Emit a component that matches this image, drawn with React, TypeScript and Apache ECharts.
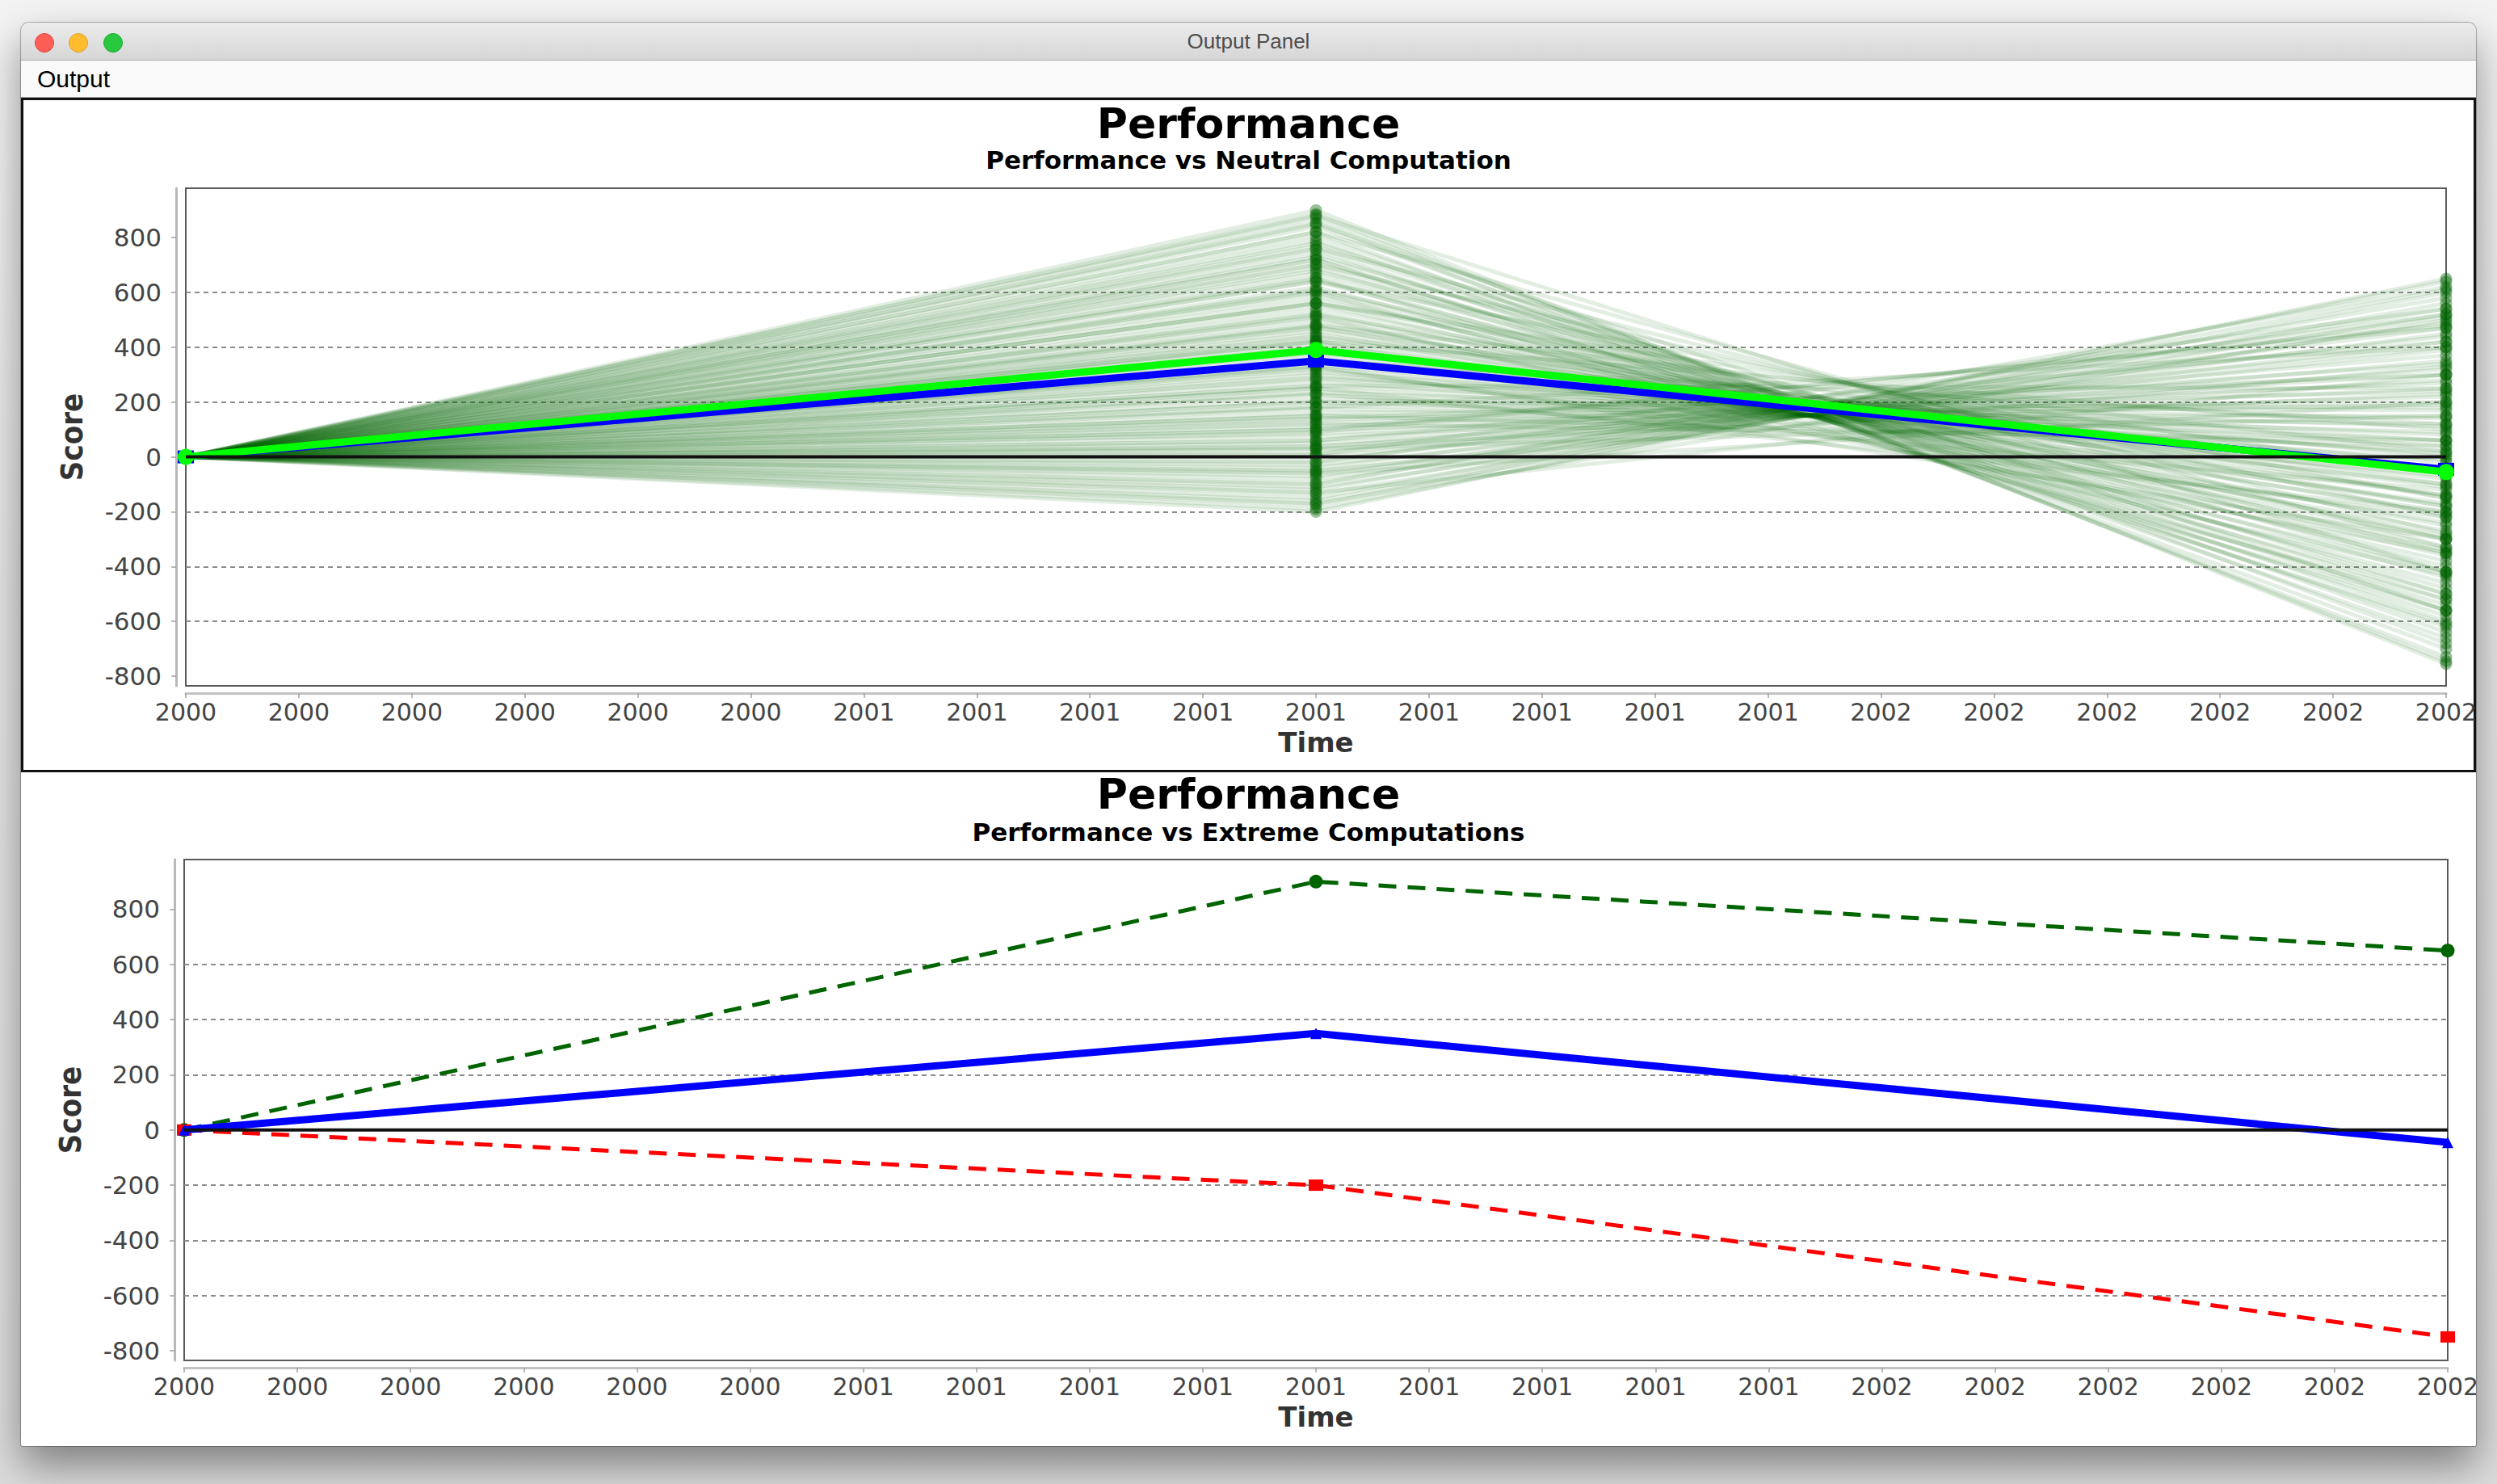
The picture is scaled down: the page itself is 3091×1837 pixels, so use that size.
import React, { useEffect, useRef } from "react";
import * as echarts from "echarts";

// ---------------- data ----------------
const xTickLabels = [
  "2000", "2000", "2000", "2000", "2000", "2000",
  "2001", "2001", "2001", "2001", "2001", "2001", "2001", "2001", "2001",
  "2002", "2002", "2002", "2002", "2002", "2002",
];
const timePoints = [0, 10, 20];
const yTicks = [-800, -600, -400, -200, 0, 200, 400, 600, 800];
const Y_MIN = -835;
const Y_MAX = 980;
const baseline = 0;

const simStart = 0;
const simMid = [
  -200, -190, -175, -160, -150, -135, -120, -110, -95, -80,
  -70, -55, -40, -30, -15, 0, 10, 25, 35, 50,
  60, 75, 85, 100, 110, 125, 135, 150, 160, 175,
  185, 200, 210, 225, 235, 250, 260, 275, 285, 300,
  310, 325, 335, 350, 360, 375, 385, 400, 410, 425,
  435, 450, 460, 475, 485, 500, 515, 530, 545, 560,
  575, 590, 605, 620, 640, 655, 670, 690, 705, 720,
  740, 755, 770, 790, 805, 820, 840, 855, 870, 885,
  900, 880, 820, 760, 700, 640, 560, 480, 420, -130,
  -60, 30, 120, 330, 250, 600, 180, 90, 520, 610,
  680, 730, 780, 850, 440, 380, 290, 200, 140, 60,
  -20, -100, -170, -50, 40, 150, 230, 320, 420, 510,
  650, 720, 560, 470, 350, 260, 100, 10,
];
const simEnd = [
  650, 600, 640, 560, 610, 520, 580, 490, 540, 450,
  510, 420, 470, 390, 440, 350, 400, 320, 370, 280,
  340, 250, 300, 220, 270, 190, 240, 150, 200, 120,
  170, 90, 140, 60, 110, 20, 80, -10, 40, -40,
  10, -70, -20, -100, -50, -140, -80, -170, -110, -200,
  -140, -240, -180, -270, -210, -300, -250, -340, -290, -380,
  -330, -420, -360, -460, -400, -500, -440, -540, -480, -580,
  -520, -620, -560, -660, -600, -700, -640, -730, -680, -745,
  -755, -420, -330, -280, -220, -150, -60, 20, 100, 300,
  200, 150, 60, -300, -200, -520, 400, 480, -180, -300,
  -350, -420, -500, -560, -60, 0, 60, 180, 300, 420,
  520, 620, 500, 330, 230, 40, -120, -220, -350, -430,
  -560, -610, -150, -100, 120, 250, 470, 540,
];
const neutralMean = [0, 390, -55];
const performance = [0, 350, -45];
const extremeHigh = [0, 900, 650];
const extremeLow = [0, -200, -750];

// ---------------- styling ----------------
const FONT = "'DejaVu Sans', 'Liberation Sans', sans-serif";
const NARROW = "'Liberation Sans Narrow', 'DejaVu Sans Condensed', 'DejaVu Sans', sans-serif";

const pts = (vals: number[]) => vals.map((v, i) => [timePoints[i], v]);

function xAxisFor(gridIndex: number) {
  return {
    type: "value",
    gridIndex,
    min: 0,
    max: 20,
    interval: 1,
    offset: 9,
    name: "Time",
    nameLocation: "middle",
    nameGap: 44,
    nameTextStyle: { fontSize: 34, fontWeight: "bold", color: "#333", fontFamily: FONT },
    axisLine: { show: true, onZero: false, lineStyle: { color: "#c2c2c2", width: 3 } },
    axisTick: { show: true, length: 6, lineStyle: { color: "#a0a0a0", width: 1.5 } },
    axisLabel: {
      margin: 8,
      fontSize: 30,
      color: "#444",
      fontFamily: FONT,
      hideOverlap: false,
      formatter: (v: number) => xTickLabels[Math.round(v)] ?? "",
    },
    splitLine: { show: false },
  };
}

function yAxisFor(gridIndex: number) {
  return {
    type: "value",
    gridIndex,
    min: Y_MIN,
    max: Y_MAX,
    splitNumber: 9,
    offset: 12,
    name: "Score",
    nameLocation: "middle",
    nameGap: 110,
    nameRotate: 90,
    nameTextStyle: { fontSize: 38, fontWeight: "bold", color: "#333", fontFamily: NARROW },
    axisLine: { show: true, onZero: false, lineStyle: { color: "#b8b8b8", width: 3 } },
    axisTick: { show: true, length: 6, customValues: yTicks, lineStyle: { color: "#a0a0a0", width: 1.5 } },
    axisLabel: { customValues: yTicks, margin: 18, fontSize: 31, color: "#444", fontFamily: FONT, hideOverlap: false },
    splitLine: {
      show: true,
      showMinLine: false,
      showMaxLine: false,
      lineStyle: { color: "#8c8c8c", width: 2, type: [6, 5] },
    },
  };
}

function buildOption() {
  const spaghetti = simMid.map((m, i) => ({
    type: "line",
    xAxisIndex: 0,
    yAxisIndex: 0,
    z: 1,
    silent: true,
    data: [
      [timePoints[0], simStart],
      [timePoints[1], m],
      [timePoints[2], simEnd[i]],
    ],
    symbol: "circle",
    symbolSize: 15,
    showSymbol: true,
    lineStyle: { color: "rgba(0,100,0,0.11)", width: 5 },
    itemStyle: { color: "rgba(0,100,0,0.4)" },
    emphasis: { disabled: true },
  }));

  const zeroLine = (g: number) => ({
    type: "line",
    xAxisIndex: g,
    yAxisIndex: g,
    z: 6,
    silent: true,
    data: [
      [timePoints[0], baseline],
      [timePoints[timePoints.length - 1], baseline],
    ],
    showSymbol: false,
    symbol: "none",
    lineStyle: { color: "#111", width: 4 },
    emphasis: { disabled: true },
  });

  return {
    animation: false,
    backgroundColor: "transparent",
    textStyle: { fontFamily: FONT },
    title: [
      { text: "Performance", left: "center", top: 0, textStyle: { fontSize: 52, fontWeight: "bold", color: "#000", fontFamily: FONT } },
      { text: "Performance vs Neutral Computation", left: "center", top: 55, textStyle: { fontSize: 31, fontWeight: "bold", color: "#000", fontFamily: FONT } },
      { text: "Performance", left: "center", top: 830, textStyle: { fontSize: 52, fontWeight: "bold", color: "#000", fontFamily: FONT } },
      { text: "Performance vs Extreme Computations", left: "center", top: 887, textStyle: { fontSize: 31, fontWeight: "bold", color: "#000", fontFamily: FONT } },
    ],
    grid: [
      { left: 204, top: 111, width: 2798, height: 616, show: true, borderColor: "#5a5a5a", borderWidth: 2, backgroundColor: "transparent", containLabel: false, outerBoundsMode: "none" },
      { left: 202, top: 942, width: 2802, height: 620, show: true, borderColor: "#5a5a5a", borderWidth: 2, backgroundColor: "transparent", containLabel: false, outerBoundsMode: "none" },
    ],
    xAxis: [xAxisFor(0), xAxisFor(1)],
    yAxis: [yAxisFor(0), yAxisFor(1)],
    series: [
      ...spaghetti,
      {
        type: "line", xAxisIndex: 0, yAxisIndex: 0, z: 3, silent: true,
        data: pts(performance),
        symbol: "rect", symbolSize: [20, 16], showSymbol: true,
        lineStyle: { color: "#0000ff", width: 9 },
        itemStyle: { color: "#0000ff" },
        emphasis: { disabled: true },
      },
      {
        type: "line", xAxisIndex: 0, yAxisIndex: 0, z: 4, silent: true,
        data: pts(neutralMean),
        symbol: "circle", symbolSize: 20, showSymbol: true,
        lineStyle: { color: "#00ff00", width: 9 },
        itemStyle: { color: "#00ff00" },
        emphasis: { disabled: true },
      },
      zeroLine(0),
      {
        type: "line", xAxisIndex: 1, yAxisIndex: 1, z: 3, silent: true,
        data: pts(extremeHigh),
        symbol: "circle", symbolSize: 17, showSymbol: true,
        lineStyle: { color: "#006400", width: 5, type: [22, 14] },
        itemStyle: { color: "#006400" },
        emphasis: { disabled: true },
      },
      {
        type: "line", xAxisIndex: 1, yAxisIndex: 1, z: 3, silent: true,
        data: pts(extremeLow),
        symbol: "rect", symbolSize: [18, 14], showSymbol: true,
        lineStyle: { color: "#ff0000", width: 5, type: [22, 14] },
        itemStyle: { color: "#ff0000" },
        emphasis: { disabled: true },
      },
      {
        type: "line", xAxisIndex: 1, yAxisIndex: 1, z: 4, silent: true,
        data: pts(performance),
        symbol: "triangle", symbolSize: 14, showSymbol: true,
        lineStyle: { color: "#0000ff", width: 9 },
        itemStyle: { color: "#0000ff" },
        emphasis: { disabled: true },
      },
      zeroLine(1),
    ],
  };
}

function ChartView() {
  const ref = useRef<HTMLDivElement>(null);
  useEffect(() => {
    if (!ref.current) return;
    const chart = echarts.init(ref.current, null, { renderer: "svg" });
    chart.setOption(buildOption() as any);
    return () => chart.dispose();
  }, []);
  return (
    <div
      ref={ref}
      style={{ position: "absolute", left: 0, top: 94, width: 3039, height: 1668, overflow: "hidden" }}
    />
  );
}

const light = (left: number, color: string, border: string) => (
  <div
    style={{
      position: "absolute", left: left - 12, top: 13, width: 24, height: 24,
      borderRadius: "50%", background: color, boxSizing: "border-box", border: `1px solid ${border}`,
    }}
  />
);

export default function App() {
  return (
    <div
      style={{
        position: "fixed", left: 0, top: 0, width: 3091, height: 1837, overflow: "hidden",
        background: "linear-gradient(#f3f3f3 0%, #e6e6e6 40%, #dcdcdc 100%)",
      }}
    >
      <div
        style={{
          position: "absolute", left: 26, top: 28, width: 3039, height: 1762, background: "#fff",
          borderRadius: "10px 10px 2px 2px", overflow: "hidden",
          boxShadow: "0 0 0 1px rgba(0,0,0,0.28), 0 24px 50px rgba(0,0,0,0.42)",
        }}
      >
        <div
          style={{
            position: "absolute", left: 0, top: 0, width: 3039, height: 47,
            background: "linear-gradient(#ececec, #d6d6d6)", borderBottom: "1px solid #b1b1b1", boxSizing: "border-box",
          }}
        >
          {light(29, "#fd5f57", "#e0443e")}
          {light(71, "#febc2e", "#dea123")}
          {light(114, "#28c840", "#1aab29")}
          <div
            style={{
              position: "absolute", left: 0, top: 0, width: 3039, height: 47, lineHeight: "47px",
              textAlign: "center", fontFamily: "'Liberation Sans', 'Noto Sans', sans-serif", fontSize: 26, color: "#4d4d4d",
            }}
          >
            Output Panel
          </div>
        </div>
        <div
          style={{
            position: "absolute", left: 0, top: 47, width: 3039, height: 46, background: "#f9f9f9",
            borderBottom: "1px solid #a0a0a0", boxSizing: "border-box",
          }}
        >
          <div
            style={{
              position: "absolute", left: 20, top: 0, height: 46, lineHeight: "46px",
              fontFamily: "'Liberation Sans', 'Noto Sans', sans-serif", fontSize: 30, color: "#000",
            }}
          >
            Output
          </div>
        </div>
        <div
          style={{
            position: "absolute", left: 0, top: 93, width: 3039, height: 835,
            border: "3px solid #111", boxSizing: "border-box", background: "#fff",
          }}
        />
        <ChartView />
      </div>
    </div>
  );
}
